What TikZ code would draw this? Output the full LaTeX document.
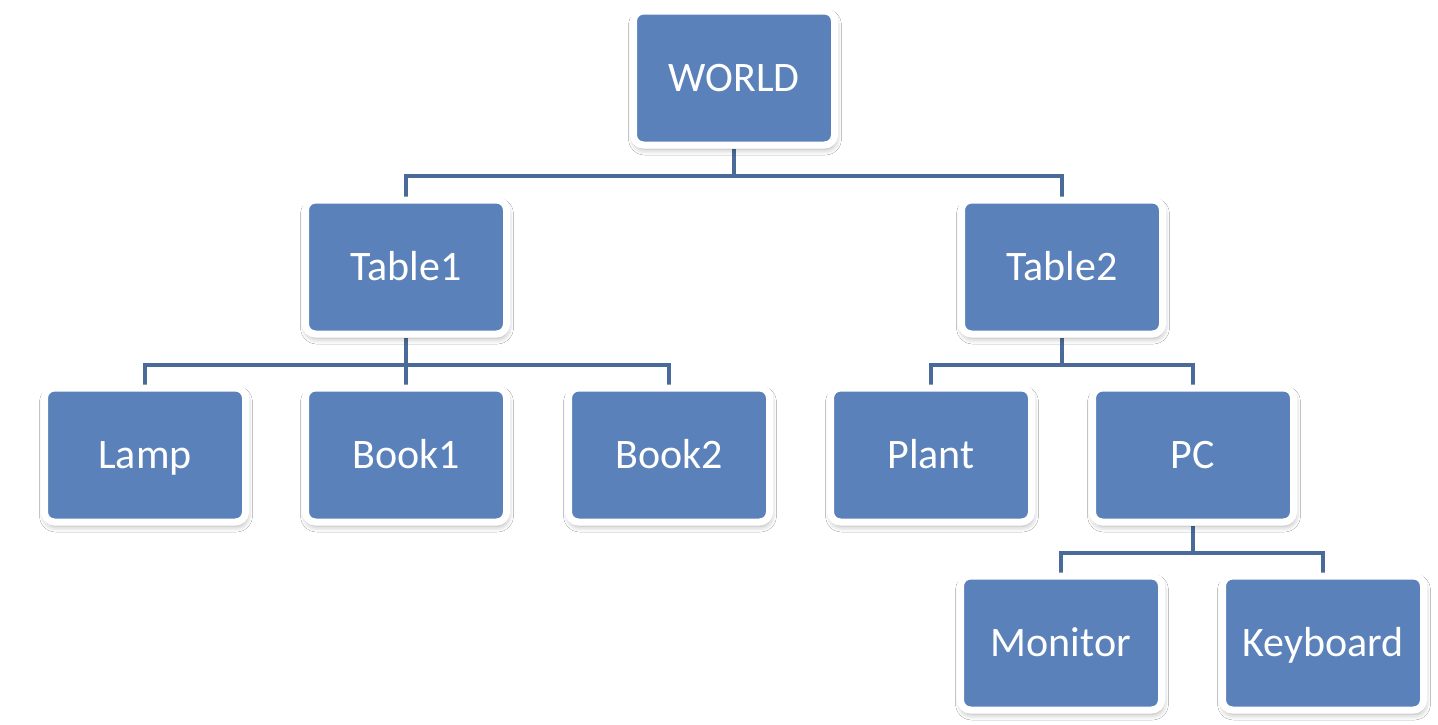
\documentclass[tikz,border=0pt]{standalone}
\usepackage{fontspec}
\setmainfont{Carlito}
\usetikzlibrary{shadows.blur,backgrounds}
\definecolor{boxblue}{RGB}{90,129,185}
\definecolor{linkblue}{RGB}{74,106,154}
\tikzset{
  objbox/.style={draw=white, line width=7pt, fill=boxblue, rounded corners=10pt,
    minimum width=201pt, minimum height=134pt, inner sep=0pt,
    text=white, font=\fontsize{42}{50}\selectfont, text height=27pt, text depth=0pt,
    blur shadow={shadow xshift=1pt, shadow yshift=-4pt, shadow blur radius=6pt, shadow opacity=35}},
  conn/.style={draw=linkblue, line width=4pt}
}
\begin{document}
\begin{tikzpicture}[x=1pt,y=-1pt]
\useasboundingbox (0,0) rectangle (1438,724);
\node[objbox] (world) at (734,78) {WORLD};
\node[objbox] (table1) at (406,267) {Table1};
\node[objbox] (table2) at (1062,267) {Table2};
\node[objbox] (lamp) at (145,455) {Lamp};
\node[objbox] (book1) at (406,455) {Book1};
\node[objbox] (book2) at (669,455) {Book2};
\node[objbox] (plant) at (931,455) {Plant};
\node[objbox] (pc) at (1193,455) {PC};
\node[objbox] (monitor) at (1061,643) {Monitor};
\node[objbox] (keyboard) at (1323,643) {Keyboard};
\begin{scope}[on background layer]
\fill[white] (0,0) rectangle (1438,724);
\draw[conn] (world.south) -- ++(0,27) -| (table1.north);
\draw[conn] (world.south) -- ++(0,27) -| (table2.north);
\draw[conn] (table1.south) -- ++(0,27) -| (lamp.north);
\draw[conn] (table1.south) -- (book1.north);
\draw[conn] (table1.south) -- ++(0,27) -| (book2.north);
\draw[conn] (table2.south) -- ++(0,27) -| (plant.north);
\draw[conn] (table2.south) -- ++(0,27) -| (pc.north);
\draw[conn] (pc.south) -- ++(0,27) -| (monitor.north);
\draw[conn] (pc.south) -- ++(0,27) -| (keyboard.north);
\end{scope}
\end{tikzpicture}
\end{document}
